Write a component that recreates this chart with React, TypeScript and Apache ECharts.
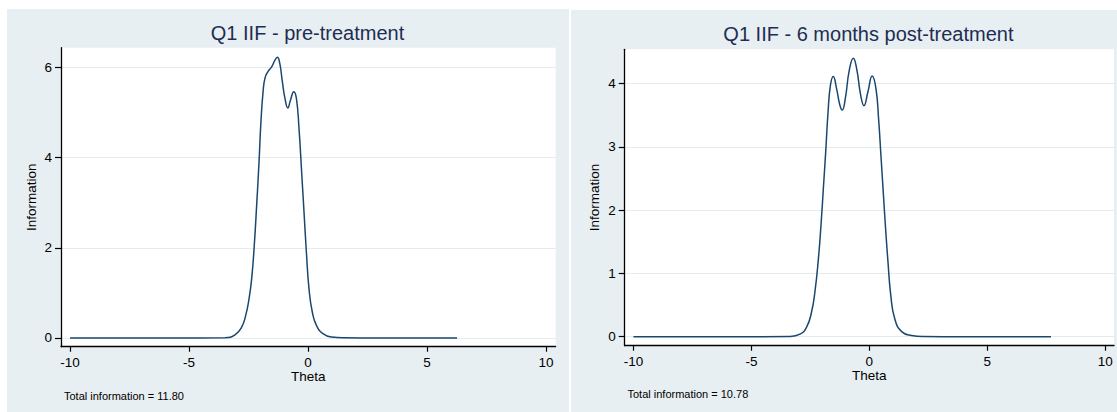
import React, { useEffect, useRef } from "react";
import * as echarts from "echarts";

const titlePre = "Q1 IIF - pre-treatment";
const titlePost = "Q1 IIF - 6 months post-treatment";
const notePre = "Total information = 11.80";
const notePost = "Total information = 10.78";

const xTicks = [-10, -5, 0, 5, 10];
const yTicksPre = [0, 2, 4, 6];
const yTicksPost = [0, 1, 2, 3, 4];

const thetaPre = [-10, -6, -3.49, -3.07, -2.79, -2.62, -2.48, -2.37, -2.26, -2.16, -2.06, -1.98, -1.89, -1.81, -1.69, -1.53, -1.39, -1.29, -1.19, -1.08, -0.97, -0.85, -0.74, -0.6, -0.49, -0.38, -0.27, -0.17, -0.07, 0.04, 0.18, 0.36, 0.64, 0.99, 1.5, 3, 6.26];
const infoPre = [0, 0, 0.005, 0.07, 0.24, 0.5, 0.87, 1.31, 2.05, 2.94, 3.9, 4.79, 5.46, 5.76, 5.9, 6.01, 6.16, 6.22, 6.09, 5.68, 5.31, 5.1, 5.27, 5.46, 5.31, 4.64, 3.68, 2.79, 1.9, 1.09, 0.57, 0.27, 0.09, 0.02, 0.003, 0, 0];

const thetaPost = [-10, -6, -3.36, -2.94, -2.66, -2.45, -2.31, -2.16, -2.05, -1.95, -1.85, -1.75, -1.65, -1.53, -1.39, -1.25, -1.15, -1.02, -0.85, -0.68, -0.54, -0.37, -0.23, -0.06, 0.12, 0.28, 0.39, 0.49, 0.59, 0.69, 0.79, 0.91, 1.08, 1.37, 1.79, 2.28, 4, 7.7];
const infoPost = [0, 0, 0.005, 0.04, 0.15, 0.39, 0.7, 1.23, 1.76, 2.34, 2.92, 3.55, 3.97, 4.11, 3.92, 3.66, 3.58, 3.76, 4.21, 4.4, 4.24, 3.82, 3.65, 3.87, 4.12, 3.92, 3.45, 2.87, 2.28, 1.7, 1.18, 0.65, 0.28, 0.08, 0.02, 0.003, 0, 0];

const FONT = "'Liberation Sans', Arial, Helvetica, sans-serif";
const PANEL_BG = "#e8eff2";
const TITLE_COLOR = "#1e2d52";
const LINE_COLOR = "#1a476f";
const GRID_COLOR = "#e3ebee";

function zip(xs: number[], ys: number[]) {
  return xs.map((x, i) => [x, ys[i]]);
}

function xAxisCfg(gridIndex: number, min: number, max: number) {
  return {
    type: "value",
    gridIndex,
    min,
    max,
    name: "Theta",
    nameLocation: "middle",
    nameGap: 23,
    nameMoveOverlap: false,
    nameTextStyle: { color: "#000", fontSize: 13.5, fontFamily: FONT },
    axisLine: { show: true, onZero: false, lineStyle: { color: "#000", width: 1.3 } },
    axisTick: { show: true, length: 5, customValues: xTicks, lineStyle: { color: "#000", width: 1.2 } },
    axisLabel: { customValues: xTicks, color: "#000", fontSize: 13.5, fontFamily: FONT, margin: 9 },
    splitLine: { show: false },
  };
}

function yAxisCfg(gridIndex: number, min: number, max: number, ticks: number[]) {
  return {
    type: "value",
    gridIndex,
    min,
    max,
    name: "Information",
    nameLocation: "middle",
    nameGap: 23,
    nameMoveOverlap: false,
    nameRotate: 90,
    nameTextStyle: { color: "#000", fontSize: 13.5, fontFamily: FONT },
    axisLine: { show: true, onZero: false, lineStyle: { color: "#000", width: 1.3 } },
    axisTick: { show: true, length: 6, customValues: ticks, lineStyle: { color: "#000", width: 1.2 } },
    axisLabel: { customValues: ticks, color: "#000", fontSize: 13.5, fontFamily: FONT, margin: 9 },
    splitLine: { show: true, lineStyle: { color: GRID_COLOR, width: 1.2 } },
  };
}

export default function App() {
  const ref = useRef<HTMLDivElement>(null);

  useEffect(() => {
    if (!ref.current) return;
    const chart = echarts.init(ref.current, undefined, { renderer: "svg" });
    chart.setOption({
      animation: false,
      backgroundColor: "transparent",
      title: [
        {
          text: titlePre,
          left: 302.5,
          top: 18,
          textAlign: "center",
          textStyle: { color: TITLE_COLOR, fontSize: 20, fontWeight: "normal", fontFamily: FONT },
        },
        {
          text: titlePost,
          left: 863.4,
          top: 19,
          textAlign: "center",
          textStyle: { color: TITLE_COLOR, fontSize: 20, fontWeight: "normal", fontFamily: FONT },
        },
      ],
      grid: [
        { left: 61, top: 47.7, width: 494.6, height: 299, show: true, backgroundColor: "#fff", borderWidth: 0 },
        { left: 624.7, top: 49.3, width: 489.3, height: 296.4, show: true, backgroundColor: "#fff", borderWidth: 0 },
      ],
      xAxis: [xAxisCfg(0, -10.38, 10.4), xAxisCfg(1, -10.37, 10.37)],
      yAxis: [yAxisCfg(0, -0.193, 6.434, yTicksPre), yAxisCfg(1, -0.142, 4.54, yTicksPost)],
      series: [
        {
          type: "line",
          xAxisIndex: 0,
          yAxisIndex: 0,
          data: zip(thetaPre, infoPre),
          smooth: 0.5,
          showSymbol: false,
          lineStyle: { color: LINE_COLOR, width: 1.5 },
        },
        {
          type: "line",
          xAxisIndex: 1,
          yAxisIndex: 1,
          data: zip(thetaPost, infoPost),
          smooth: 0.5,
          showSymbol: false,
          lineStyle: { color: LINE_COLOR, width: 1.5 },
        },
      ],
      graphic: [
        {
          type: "text",
          x: 64,
          y: 396,
          style: { text: notePre, fill: "#000", fontSize: 11, fontFamily: FONT, verticalAlign: "middle" },
        },
        {
          type: "text",
          x: 627.5,
          y: 394,
          style: { text: notePost, fill: "#000", fontSize: 11, fontFamily: FONT, verticalAlign: "middle" },
        },
      ],
    });
    return () => chart.dispose();
  }, []);

  return (
    <div style={{ position: "absolute", left: 0, top: 0, width: 1117, height: 412, background: "#fff" }}>
      <div style={{ position: "absolute", left: 7, top: 9, width: 562, height: 403, background: PANEL_BG }} />
      <div style={{ position: "absolute", left: 571, top: 10, width: 546, height: 402, background: PANEL_BG }} />
      <div ref={ref} style={{ position: "absolute", left: 0, top: 0, width: 1117, height: 412 }} />
    </div>
  );
}
